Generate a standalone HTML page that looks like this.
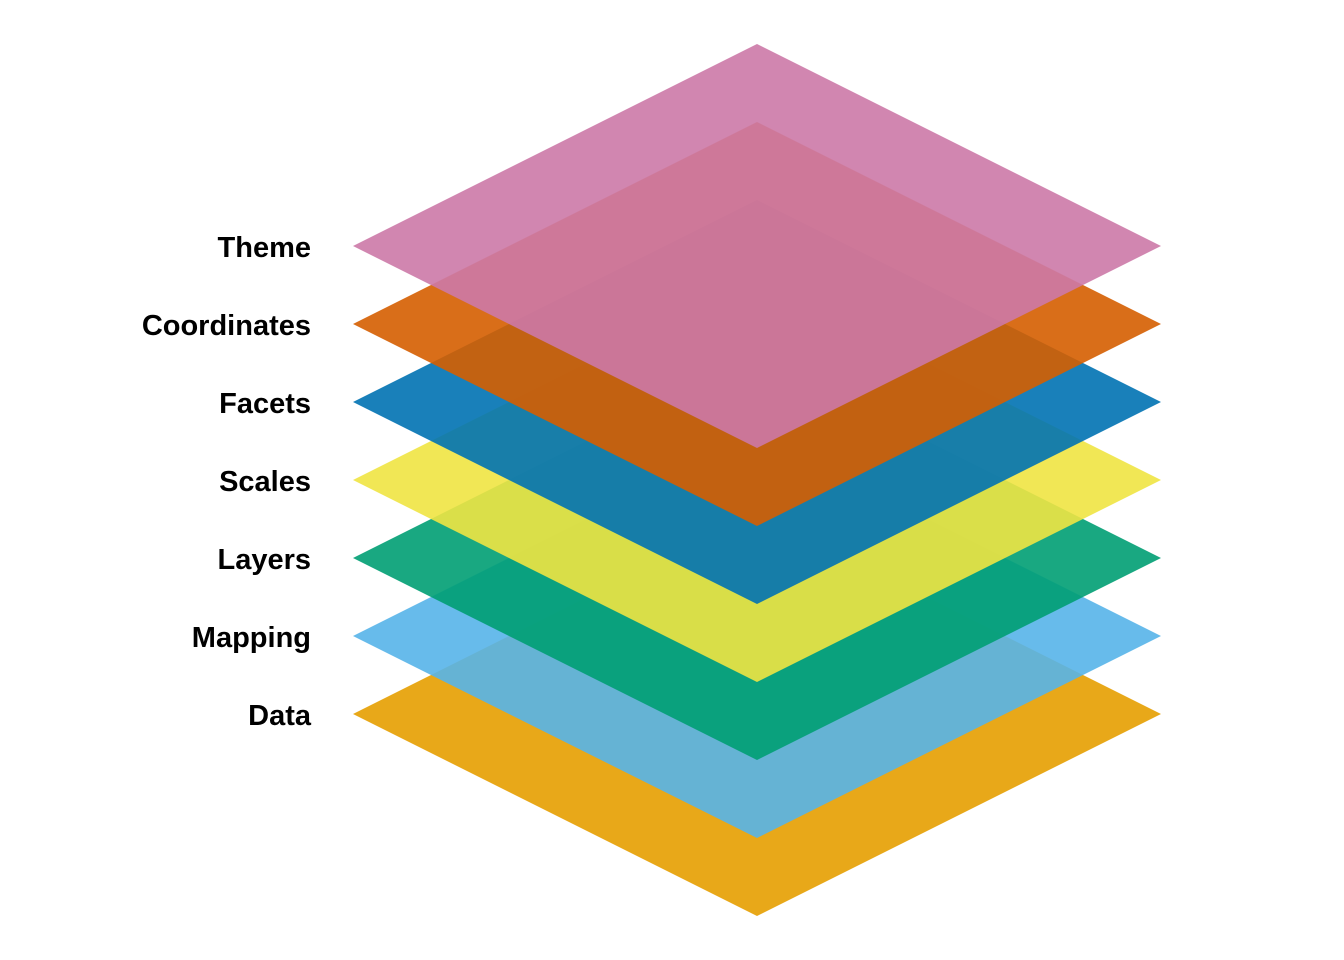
<!DOCTYPE html>
<html><head><meta charset="utf-8"><style>
html,body{margin:0;padding:0;background:#fff;}
svg{display:block;}
text{font-family:"Liberation Sans",sans-serif;font-weight:bold;font-size:29px;fill:#000;}
</style></head><body>
<svg width="1344" height="960" viewBox="0 0 1344 960">
<g fill-opacity="0.9">
<polygon points="353,714 757,512 1161,714 757,916" fill="#E69F00"/>
<polygon points="353,636 757,434 1161,636 757,838" fill="#56B4E9"/>
<polygon points="353,558 757,356 1161,558 757,760" fill="#009E73"/>
<polygon points="353,480 757,278 1161,480 757,682" fill="#F0E442"/>
<polygon points="353,402 757,200 1161,402 757,604" fill="#0072B2"/>
<polygon points="353,324 757,122 1161,324 757,526" fill="#D55E00"/>
<polygon points="353,246 757,44 1161,246 757,448" fill="#CC79A7"/>
</g>
<g text-anchor="end">
<text x="311" y="257">Theme</text>
<text x="311" y="335">Coordinates</text>
<text x="311" y="413">Facets</text>
<text x="311" y="491">Scales</text>
<text x="311" y="569">Layers</text>
<text x="311" y="647">Mapping</text>
<text x="311" y="725">Data</text>
</g>
</svg>
</body></html>
